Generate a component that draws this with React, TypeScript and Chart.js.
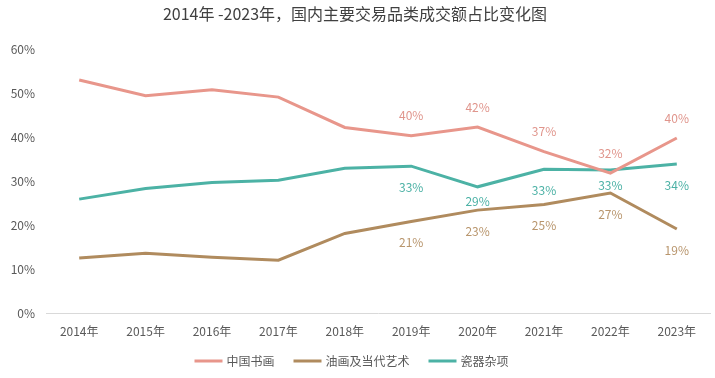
import React, { useEffect, useRef } from "react";
import { Chart, registerables } from "chart.js";

Chart.register(...registerables);

const titleText = "2014年 -2023年，国内主要交易品类成交额占比变化图";
const years = ["2014年", "2015年", "2016年", "2017年", "2018年", "2019年", "2020年", "2021年", "2022年", "2023年"];
const seriesNames = ["中国书画", "油画及当代艺术", "瓷器杂项"];
const chinesePainting = [53.0, 49.4, 50.8, 49.1, 42.2, 40.3, 42.3, 36.7, 31.8, 39.8];
const oilPainting = [12.5, 13.6, 12.7, 12.0, 18.1, 20.8, 23.4, 24.7, 27.3, 19.1];
const porcelain = [25.9, 28.3, 29.7, 30.2, 32.9, 33.4, 28.7, 32.7, 32.5, 33.9];
const yTicks = [0, 10, 20, 30, 40, 50, 60];
const labelFromIndex = 5;

const FONT = '"Noto Sans CJK SC", "Noto Sans", sans-serif';
const lineColors = ["#E8968B", "#B08B5E", "#4CB2A5"];
const labelColors = ["#E0958C", "#B8956C", "#4BB1A5"];
const labelOffsets = [-20, 21, 21];
const labelOffsetOverrides: Record<number, Record<number, number>> = { 2: { 6: 15, 8: 15 } };

const dataLabelPlugin = {
  id: "dataLabels",
  afterDatasetsDraw(chart: any) {
    const ctx = chart.ctx;
    ctx.save();
    ctx.font = `12px ${FONT}`;
    ctx.textAlign = "center";
    ctx.textBaseline = "middle";
    chart.data.datasets.forEach((ds: any, di: number) => {
      const meta = chart.getDatasetMeta(di);
      meta.data.forEach((pt: any, i: number) => {
        if (i < labelFromIndex) return;
        const ov = labelOffsetOverrides[di] && labelOffsetOverrides[di][i];
        const off = ov !== undefined ? ov : labelOffsets[di];
        ctx.fillStyle = labelColors[di];
        ctx.fillText(Math.round(ds.data[i]) + "%", pt.x, pt.y + off);
      });
    });
    ctx.restore();
  },
};

const legendPlugin = {
  id: "customLegend",
  afterDraw(chart: any) {
    const ctx = chart.ctx;
    ctx.save();
    ctx.font = `12px ${FONT}`;
    ctx.textBaseline = "middle";
    ctx.textAlign = "left";
    const boxW = 28;
    const boxH = 3;
    const boxGap = 4;
    const itemGap = 19;
    const items = chart.data.datasets.map((ds: any) => ({
      text: ds.label,
      color: ds.borderColor,
      w: boxW + boxGap + ctx.measureText(ds.label).width,
    }));
    const total = items.reduce((a: number, it: any) => a + it.w, 0) + itemGap * (items.length - 1);
    let x = chart.width / 2 - total / 2 - 6;
    const y = 361;
    items.forEach((it: any) => {
      ctx.fillStyle = it.color;
      ctx.fillRect(x, y - boxH / 2, boxW, boxH);
      ctx.fillStyle = "#595959";
      ctx.fillText(it.text, x + boxW + boxGap, y);
      x += it.w + itemGap;
    });
    ctx.restore();
  },
};

export default function App() {
  const ref = useRef<HTMLCanvasElement | null>(null);
  useEffect(() => {
    if (!ref.current) return;
    const allSeries = [chinesePainting, oilPainting, porcelain];
    const chart = new Chart(ref.current, {
      type: "line",
      data: {
        labels: years,
        datasets: allSeries.map((d, i) => ({
          label: seriesNames[i],
          data: d,
          borderColor: lineColors[i],
          backgroundColor: lineColors[i],
          borderWidth: 3,
          pointRadius: 0,
          tension: 0,
          fill: false,
        })),
      },
      options: {
        animation: false,
        responsive: true,
        maintainAspectRatio: false,
        layout: { padding: { left: 0, right: 5, top: 0, bottom: 40 } },
        plugins: {
          title: {
            display: true,
            text: titleText,
            color: "#404040",
            font: { family: FONT, size: 16, weight: "normal" },
            padding: { top: 4, bottom: 26 },
          },
          legend: { display: false },
          tooltip: { enabled: false },
        },
        scales: {
          x: {
            offset: true,
            grid: { display: false, drawTicks: false },
            border: { display: true, color: "#D9D9D9", width: 1 },
            afterFit: (s: any) => {
              s.height = 25;
            },
            ticks: { color: "#595959", font: { family: FONT, size: 12 }, padding: 11, maxRotation: 0 },
          },
          y: {
            min: 0,
            max: 60,
            afterBuildTicks: (s: any) => {
              s.ticks = yTicks.map((v) => ({ value: v }));
            },
            afterFit: (s: any) => {
              s.width = 46;
            },
            grid: { display: false, drawTicks: false },
            border: { display: false },
            ticks: {
              color: "#595959",
              font: { family: FONT, size: 12 },
              padding: 11,
              callback: (v: any) => v + "%",
            },
          },
        },
      },
      plugins: [dataLabelPlugin, legendPlugin],
    });
    return () => chart.destroy();
  }, []);
  return (
    <div style={{ position: "fixed", left: 0, top: 0, width: 715, height: 378 }}>
      <canvas ref={ref} />
    </div>
  );
}
